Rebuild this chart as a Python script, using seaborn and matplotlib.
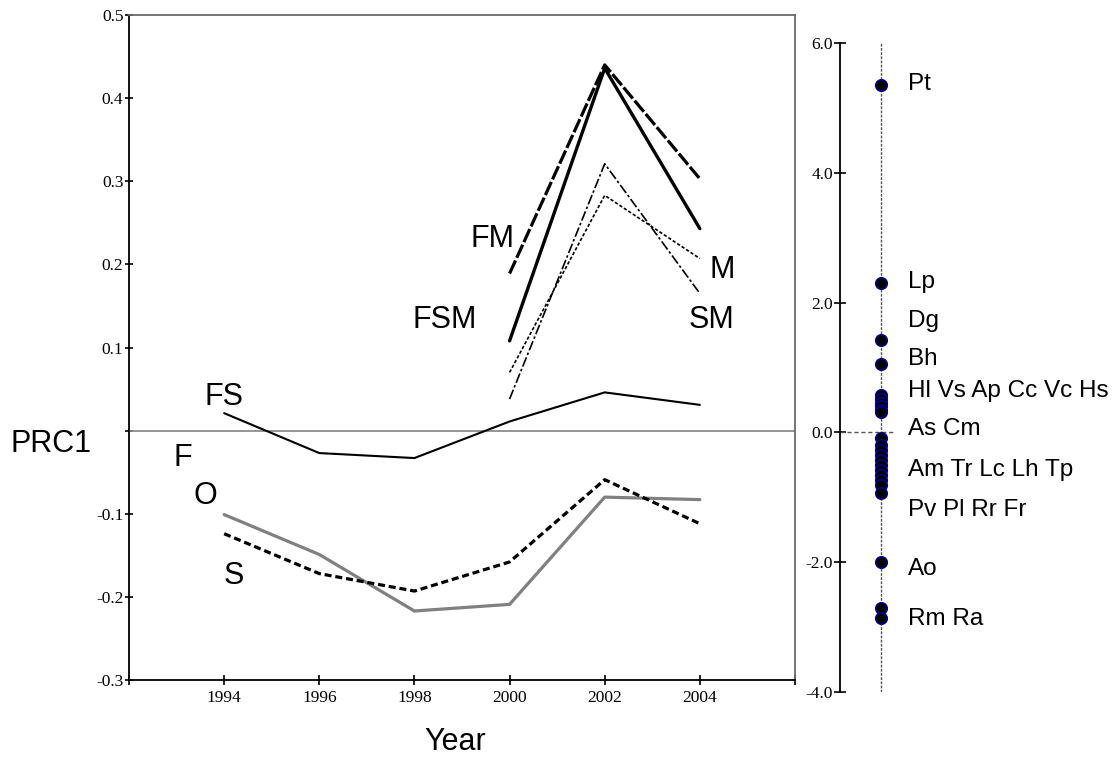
import matplotlib
matplotlib.use("Agg")
import matplotlib.pyplot as plt
import numpy as np
import pandas as pd
import seaborn as sns

# PRC diagram values
years = [1994, 1996, 1998, 2000, 2002, 2004]
prc_fs = [0.021, -0.027, -0.033, 0.011, 0.046, 0.031]
prc_o = [-0.101, -0.149, -0.217, -0.209, -0.080, -0.083]
prc_s = [-0.124, -0.172, -0.193, -0.158, -0.059, -0.112]
prc_fm = [np.nan, np.nan, np.nan, 0.189, 0.440, 0.303]
prc_fsm = [np.nan, np.nan, np.nan, 0.108, 0.436, 0.243]
prc_m = [np.nan, np.nan, np.nan, 0.070, 0.283, 0.207]
prc_sm = [np.nan, np.nan, np.nan, 0.038, 0.321, 0.165]

# species weights
species = ["Pt", "Lp", "Dg", "Bh", "Hl", "Vs", "Ap", "Cc", "Vc", "Hs",
           "As", "Cm", "Am", "Tr", "Lc", "Lh", "Tp", "Pv", "Pl", "Rr", "Fr",
           "Ao", "Rm", "Ra"]
weights = [5.36, 2.30, 1.43, 1.06, 0.58, 0.52, 0.45, 0.41, 0.35, 0.32,
           -0.09, -0.20, -0.27, -0.35, -0.43, -0.50, -0.58, -0.66, -0.73, -0.81, -0.94,
           -2.00, -2.71, -2.86]
label_groups = [["Pt"], ["Lp"], ["Dg"], ["Bh"], ["Hl", "Vs", "Ap", "Cc", "Vc", "Hs"],
                ["As", "Cm"], ["Am", "Tr", "Lc", "Lh", "Tp"], ["Pv", "Pl", "Rr", "Fr"],
                ["Ao"], ["Rm", "Ra"]]
label_pos = [5.28, 2.23, 1.63, 1.04, 0.55, -0.04, -0.67, -1.29, -2.20, -2.97]

series = {"FS": prc_fs, "O": prc_o, "S": prc_s, "FM": prc_fm,
          "FSM": prc_fsm, "M": prc_m, "SM": prc_sm}
rows = []
for name, vals in series.items():
    for yr, v in zip(years, vals):
        rows.append({"Year": yr, "PRC1": v, "Treatment": name})
df = pd.DataFrame(rows).dropna()

sns.set_style("ticks")
serif = "Liberation Serif"
sans = "Liberation Sans"
plt.rcParams["font.family"] = [serif, "DejaVu Serif"]
for key in ["text.color", "axes.labelcolor", "xtick.color", "ytick.color"]:
    plt.rcParams[key] = "black"

fig = plt.figure(figsize=(11.18, 7.58), dpi=100)
ax = fig.add_axes([129 / 1118, 1 - 680 / 758, 666 / 1118, 665 / 758])

ax.axhline(0, color="#8c8c8c", lw=1.3, zorder=1)

palette = {"FS": "black", "O": "#808080", "S": "black", "FM": "black",
           "FSM": "black", "M": "black", "SM": "black"}
sizes = {"FS": 1.5, "O": 2.3, "S": 2.3, "FM": 2.3, "FSM": 2.4, "M": 1.2, "SM": 1.2}
dashes = {"FS": "", "O": "", "S": (2.2, 1.2), "FM": (4.5, 0.9), "FSM": "",
          "M": (2.0, 1.2), "SM": (6, 1.5, 1.5, 1.5)}
sns.lineplot(data=df, x="Year", y="PRC1", hue="Treatment", style="Treatment",
             size="Treatment", palette=palette, sizes=sizes, dashes=dashes,
             legend=False, ax=ax)

ax.set_xlim(1992, 2006)
ax.set_ylim(-0.3, 0.5)
yt = [-0.3, -0.2, -0.1, 0.0, 0.1, 0.2, 0.3, 0.4, 0.5]
ax.set_yticks(yt)
ax.set_yticklabels(["" if v == 0 else f"{v:.1f}" for v in yt], fontsize=12.5)
xt = list(range(1992, 2007, 2))
ax.set_xticks(xt)
ax.set_xticklabels([str(x) if x in years else "" for x in xt], fontsize=12.5)
ax.tick_params(axis="y", direction="inout", length=6, width=1.2, pad=1)
ax.tick_params(axis="x", direction="inout", length=7, width=1.2, pad=4)
ax.set_xlabel("")
ax.set_ylabel("")
for side in ["left", "bottom"]:
    ax.spines[side].set_color("black")
    ax.spines[side].set_linewidth(1.3)
for side in ["top", "right"]:
    ax.spines[side].set_visible(True)
    ax.spines[side].set_color("#6a6a6a")
    ax.spines[side].set_linewidth(1.3)

# treatment labels
treat_labels = [("FM", 1999.65, 0.2205), ("FSM", 1998.64, 0.124), ("M", 2004.46, 0.184),
                ("SM", 2004.25, 0.124), ("FS", 1994.0, 0.031), ("F", 1993.14, -0.042),
                ("O", 1993.6, -0.088), ("S", 1994.2, -0.184)]
for txt, xx, yy in treat_labels:
    ax.text(xx, yy, txt, ha="center", va="baseline", fontsize=22, family=sans)

fig.text(51 / 1118, 1 - 452 / 758, "PRC1", ha="center", va="baseline",
         fontsize=22, family=sans)
fig.text(455 / 1118, 1 - 750 / 758, "Year", ha="center", va="baseline",
         fontsize=22, family=sans)

# species axis
ax2 = fig.add_axes([840 / 1118, 1 - 692 / 758, 82 / 1118, 649 / 758])
ax2.set_xlim(0, 1)
ax2.set_ylim(-4, 6)
ax2.axvline(0.5, color="#555555", lw=1.0, ls=(0, (2, 1)), zorder=1)
ax2.axhline(0, xmax=53 / 82, color="#555555", lw=1.0, ls=(0, (3, 2)), zorder=1)
sns.scatterplot(x=[0.5] * len(weights), y=weights, color="black", edgecolor="#000080",
                linewidth=1.2, s=68, ax=ax2, zorder=3, clip_on=False)
for grp, yy in zip(label_groups, label_pos):
    ax2.text(67.7 / 82, yy, " ".join(grp), ha="left", va="baseline",
             fontsize=17.5, family=sans, clip_on=False)
ax2.set_yticks([-4, -2, 0, 2, 4, 6])
ax2.set_yticklabels(["-4.0", "-2.0", "0.0", "2.0", "4.0", "6.0"], fontsize=12.5)
ax2.set_xticks([])
ax2.tick_params(axis="y", direction="inout", length=8, width=1.2, pad=1)
for side in ["top", "right", "bottom"]:
    ax2.spines[side].set_visible(False)
ax2.spines["left"].set_linewidth(1.3)
ax2.spines["left"].set_color("black")
ax2.patch.set_alpha(0)

fig.savefig("out.png", dpi=100)
